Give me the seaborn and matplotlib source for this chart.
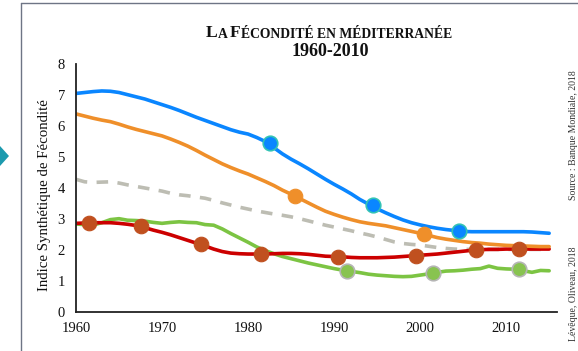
import matplotlib
matplotlib.use("Agg")
import matplotlib.pyplot as plt
from matplotlib.lines import Line2D
from matplotlib.patches import Polygon
import numpy as np
import pandas as pd
import seaborn as sns

# ---- data -------------------------------------------------------------
years = list(range(1960, 2016))

blue = [7.05, 7.08, 7.11, 7.13, 7.12, 7.08, 7.01, 6.94, 6.87, 6.78,
        6.69, 6.60, 6.50, 6.39, 6.28, 6.18, 6.08, 5.98, 5.88, 5.80,
        5.74, 5.63, 5.50, 5.30, 5.10, 4.93, 4.78, 4.62, 4.45, 4.28,
        4.12, 3.97, 3.81, 3.63, 3.48, 3.33, 3.20, 3.08, 2.97, 2.88,
        2.81, 2.75, 2.70, 2.66, 2.63, 2.60, 2.59, 2.59, 2.59, 2.59,
        2.59, 2.59, 2.59, 2.58, 2.56, 2.54]

orange = [6.39, 6.32, 6.25, 6.19, 6.14, 6.06, 5.97, 5.89, 5.82, 5.75,
          5.68, 5.58, 5.47, 5.35, 5.21, 5.06, 4.92, 4.78, 4.66, 4.55,
          4.45, 4.33, 4.21, 4.08, 3.93, 3.80, 3.66, 3.52, 3.38, 3.25,
          3.15, 3.06, 2.98, 2.91, 2.86, 2.82, 2.78, 2.72, 2.66, 2.60,
          2.54, 2.47, 2.40, 2.35, 2.31, 2.27, 2.24, 2.22, 2.19, 2.17,
          2.15, 2.14, 2.13, 2.12, 2.11, 2.11]

grey = [4.28, 4.20, 4.18, 4.19, 4.20, 4.16, 4.10, 4.05, 4.00, 3.95,
        3.90, 3.83, 3.78, 3.75, 3.71, 3.67, 3.60, 3.52, 3.45, 3.38,
        3.32, 3.26, 3.21, 3.16, 3.12, 3.07, 3.01, 2.94, 2.87, 2.80,
        2.74, 2.68, 2.62, 2.55, 2.49, 2.42, 2.34, 2.26, 2.21, 2.18,
        2.16, 2.12, 2.08, 2.05, 2.03, 2.02, 2.02, 2.02, 2.02, 2.02,
        2.02, 2.02, 2.02, 2.02, 2.02, 2.02]

red = [2.86, 2.87, 2.88, 2.88, 2.88, 2.86, 2.83, 2.79, 2.72, 2.64,
       2.57, 2.49, 2.40, 2.31, 2.22, 2.13, 2.03, 1.95, 1.90, 1.88,
       1.87, 1.87, 1.87, 1.88, 1.89, 1.89, 1.88, 1.86, 1.83, 1.80,
       1.79, 1.78, 1.76, 1.75, 1.75, 1.75, 1.76, 1.77, 1.79, 1.81,
       1.83, 1.85, 1.87, 1.90, 1.93, 1.96, 1.99, 2.01, 2.02, 2.02,
       2.03, 2.03, 2.03, 2.03, 2.03, 2.03]

green = [2.84, 2.82, 2.81, 2.88, 2.98, 3.01, 2.96, 2.95, 2.93, 2.89,
         2.86, 2.89, 2.91, 2.89, 2.88, 2.82, 2.80, 2.68, 2.53, 2.39,
         2.25, 2.10, 1.98, 1.88, 1.79, 1.72, 1.65, 1.58, 1.52, 1.46,
         1.40, 1.35, 1.31, 1.27, 1.22, 1.19, 1.17, 1.15, 1.14, 1.15,
         1.19, 1.23, 1.28, 1.32, 1.33, 1.35, 1.38, 1.40, 1.48, 1.41,
         1.39, 1.38, 1.33, 1.28, 1.34, 1.33]

# highlighted points on each curve
blue_pts_x = [1982.5, 1994.5, 2004.5]
blue_pts_y = [5.44, 3.45, 2.62]
orange_pts_x = [1985.5, 2000.5]
orange_pts_y = [3.74, 2.52]
red_pts_x = [1961.5, 1967.5, 1974.5, 1981.5, 1990.5, 1999.5, 2006.5, 2011.5]
red_pts_y = [2.87, 2.78, 2.19, 1.87, 1.78, 1.81, 2.00, 2.03]
green_pts_x = [1991.5, 2001.5, 2011.5]
green_pts_y = [1.33, 1.25, 1.38]

x_ticks = [1960, 1970, 1980, 1990, 2000, 2010]
y_ticks = [0, 1, 2, 3, 4, 5, 6, 7, 8]

# ---- style ------------------------------------------------------------
sns.set_theme(style="white")
plt.rcParams["font.family"] = ["Liberation Serif", "DejaVu Serif"]

C_BLUE = "#0A86FF"
C_ORANGE = "#EF8F2A"
C_GREY = "#BDBDB3"
C_RED = "#CC0000"
C_GREEN = "#7CC443"

fig = plt.figure(figsize=(5.78, 3.51), dpi=100)
ax = fig.add_axes([0.1315, 0.1111, 0.832, 0.7066])

df = pd.DataFrame({"year": years, "blue": blue, "orange": orange,
                   "grey": grey, "red": red, "green": green})

lw = 2.6
sns.lineplot(data=df, x="year", y="grey", ax=ax, color=C_GREY, lw=lw,
             linestyle=(0, (3.2, 2.6)))
sns.lineplot(data=df, x="year", y="green", ax=ax, color=C_GREEN, lw=lw)
sns.lineplot(data=df, x="year", y="red", ax=ax, color=C_RED, lw=lw)
sns.lineplot(data=df, x="year", y="orange", ax=ax, color=C_ORANGE, lw=lw)
sns.lineplot(data=df, x="year", y="blue", ax=ax, color=C_BLUE, lw=lw)

msize = 110
sns.scatterplot(x=red_pts_x, y=red_pts_y, ax=ax, s=msize, color="#C0501F",
                edgecolor="#C0501F", linewidth=0.8, zorder=5)
sns.scatterplot(x=green_pts_x, y=green_pts_y, ax=ax, s=msize, color="#88C350",
                edgecolor="#B5B5B5", linewidth=1.2, zorder=5)
sns.scatterplot(x=orange_pts_x, y=orange_pts_y, ax=ax, s=msize, color=C_ORANGE,
                edgecolor=C_ORANGE, linewidth=0.8, zorder=5)
sns.scatterplot(x=blue_pts_x, y=blue_pts_y, ax=ax, s=msize, color=C_BLUE,
                edgecolor="#33C3B5", linewidth=1.2, zorder=5)

ax.set_xlim(1960, 2015.9)
ax.set_ylim(0, 8)
ax.set_xticks(x_ticks)
ax.set_yticks(y_ticks)
ax.tick_params(axis="x", direction="inout", length=4, width=1, color="#333333",
               labelsize=10.5, pad=5)
ax.tick_params(axis="y", length=0, labelsize=10.5, pad=8)
for lab in ax.get_xticklabels() + ax.get_yticklabels():
    lab.set_color("#111111")

for side in ("top", "right"):
    ax.spines[side].set_visible(False)
for side in ("left", "bottom"):
    ax.spines[side].set_color("#222222")
    ax.spines[side].set_linewidth(1.3)

ax.set_xlabel("")
ax.set_ylabel("Indice Synthétique de Fécondité", fontsize=10.7, color="#111111")
ax.yaxis.set_label_coords(-0.052, 0.47)

# ---- title in small capitals -------------------------------------------
pieces = [("L", 12.6), ("A ", 9.8), ("F", 12.6), ("ÉCONDITÉ EN MÉDITERRANÉE", 9.8)]
first = fig.text(0.0, 0.0, pieces[0][0], fontsize=pieces[0][1], fontweight="bold",
                 color="#111111", ha="left", va="baseline")
prev = first
chain = [first]
for txt, size in pieces[1:]:
    t = ax.annotate(txt, xy=(1, 0), xycoords=prev, fontsize=size,
                    fontweight="bold", color="#111111", ha="left", va="bottom",
                    annotation_clip=False)
    chain.append(t)
    prev = t
fig.canvas.draw()
r = fig.canvas.get_renderer()
x0 = min(t.get_window_extent(r).x0 for t in chain)
x1 = max(t.get_window_extent(r).x1 for t in chain)
W = fig.bbox.width
center_px = 329
first.set_position(((center_px - (x1 - x0) / 2) / W, 1 - 37 / 351))

fig.text(330 / 578, 1 - 51 / 351, "1960-2010", fontsize=13, fontweight="bold",
         color="#111111", ha="center", va="center")

# ---- side notes ------------------------------------------------------
fig.text(574 / 578, 1 - 135 / 351, "Source : Banque Mondiale, 2018",
         rotation=90, fontsize=7, color="#333333", ha="center", va="center")
fig.text(574 / 578, 1 - 294 / 351, "Lévêque, Oliveau, 2018",
         rotation=90, fontsize=7, color="#333333", ha="center", va="center")

# ---- frame and arrow ---------------------------------------------------
frame_c = "#6E7585"
fig.add_artist(Line2D([20.5 / 578, 20.5 / 578], [0, 1 - 3 / 351],
                      transform=fig.transFigure, color=frame_c, lw=1.0))
fig.add_artist(Line2D([20.5 / 578, 1], [1 - 3 / 351, 1 - 3 / 351],
                      transform=fig.transFigure, color=frame_c, lw=1.0))
fig.add_artist(Polygon([[0, 1 - 146 / 351], [9 / 578, 1 - 156 / 351],
                        [0, 1 - 166 / 351]], closed=True,
                       transform=fig.transFigure, color="#1C9AAE", lw=0))

fig.savefig("out.png", dpi=100)
